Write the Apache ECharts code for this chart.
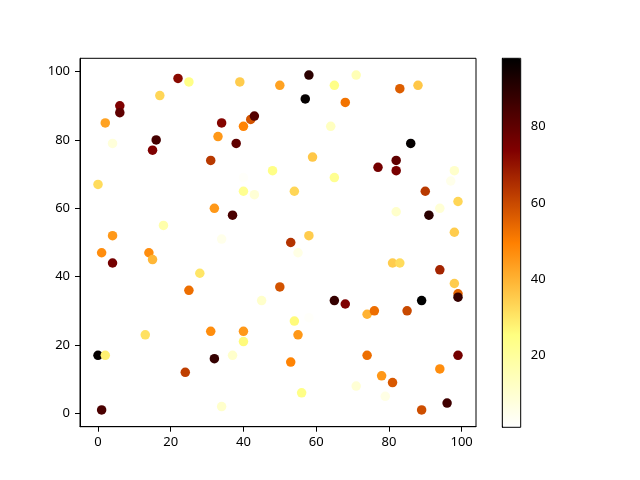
<!DOCTYPE html>
<html><head><meta charset="utf-8">
<script src="https://cdn.jsdelivr.net/npm/echarts@6/dist/echarts.min.js"></script>
<style>html,body{margin:0;padding:0;background:#fff}#c{width:640px;height:480px}</style>
</head><body><div id="c"></div>
<script>
const xs = [22,25,39,50,17,6,6,2,4,16,15,34,40,42,43,33,38,31,48,0,40,43,40,32,37,18,4,34,
58,65,71,83,88,57,68,64,86,59,82,77,82,65,98,97,54,90,99,82,94,91,98,53,58,
1,14,15,4,28,25,50,45,13,31,40,40,0,2,32,37,24,1,34,
55,81,83,94,98,99,99,65,68,89,74,76,85,54,58,55,53,74,99,94,78,81,56,71,79,96,89];
const ys = [98,97,97,96,93,90,88,85,79,80,77,85,84,86,87,81,79,74,71,67,65,64,69,60,58,55,52,51,
99,96,99,95,96,92,91,84,79,75,74,72,71,69,71,68,65,65,62,59,60,58,53,50,52,
47,47,45,44,41,36,37,33,23,24,24,21,17,17,16,17,12,1,2,
47,44,44,42,38,35,34,33,32,33,29,30,30,27,28,23,15,17,17,13,11,9,6,8,5,3,1];
const cs = [72,24,35,43,33,74,80,43,8,85,74,73,49,58,82,45,80,63,24,32,22,9,2,45,84,17,45,5,
90,24,15,56,36,97,52,13,97,36,80,76,75,22,11,5,33,63,33,11,9,90,35,64,35,
47,47,39,76,30,53,58,11,31,47,45,26,97,28,88,11,62,84,11,
6,35,32,67,35,55,88,88,74,98,40,53,60,26,2,45,49,53,76,47,45,57,24,9,6,86,59];
const xTicks = [0,20,40,60,80,100];
const yTicks = [0,20,40,60,80,100];
const cTicks = [20,40,60,80];
const cMin = 1, cMax = 98;

const points = xs.map((x,i)=>[x, ys[i], cs[i]]);
const font = {fontFamily:'Noto Sans', fontSize:13, color:'#000'};
const chart = echarts.init(document.getElementById('c'), null, {renderer:'canvas'});
chart.setOption({
  animation:false,
  backgroundColor:'#fff',
  grid:[
    {left:80, top:58.3, width:396, height:368.4, show:true, borderColor:'#000', borderWidth:1, backgroundColor:'transparent'},
    {left:502.3, top:58.3, width:18.4, height:369, show:true, borderColor:'#000', borderWidth:1, backgroundColor:'transparent', z:10}
  ],
  xAxis:[
    {type:'value', gridIndex:0, min:-4.95, max:103.95, splitLine:{show:false},
     axisLine:{show:true, onZero:false, lineStyle:{color:'#000'}},
     axisTick:{show:true, length:5, lineStyle:{color:'#000'}, customValues:xTicks},
     axisLabel:Object.assign({margin:9, customValues:xTicks}, font)},
    {type:'value', gridIndex:1, min:0, max:1, show:false}
  ],
  yAxis:[
    {type:'value', gridIndex:0, min:-3.9, max:103.9, splitLine:{show:false},
     axisLine:{show:true, onZero:false, lineStyle:{color:'#000'}},
     axisTick:{show:true, length:5, lineStyle:{color:'#000'}, customValues:yTicks},
     axisLabel:Object.assign({margin:10, customValues:yTicks}, font)},
    {type:'value', gridIndex:1, min:cMin, max:cMax, position:'right', splitLine:{show:false},
     axisLine:{show:true, lineStyle:{color:'#000'}},
     axisTick:{show:true, length:5, lineStyle:{color:'#000'}, customValues:cTicks},
     axisLabel:Object.assign({margin:10, customValues:cTicks}, font)}
  ],
  visualMap:{
    type:'continuous', min:cMin, max:cMax, dimension:2, seriesIndex:0,
    calculable:false, realtime:false, hoverLink:false,
    left:502.3, top:58.3, itemWidth:18.4, itemHeight:369, padding:0,
    text:null, showLabel:false, textStyle:{color:'transparent', fontSize:0},
    inRange:{color:['#ffffff','#ffff80','#ff8000','#800000','#000000']}
  },
  series:[{
    type:'scatter', xAxisIndex:0, yAxisIndex:0, data:points, symbolSize:9.5,
    itemStyle:{opacity:1}
  }]
});
</script></body></html>
